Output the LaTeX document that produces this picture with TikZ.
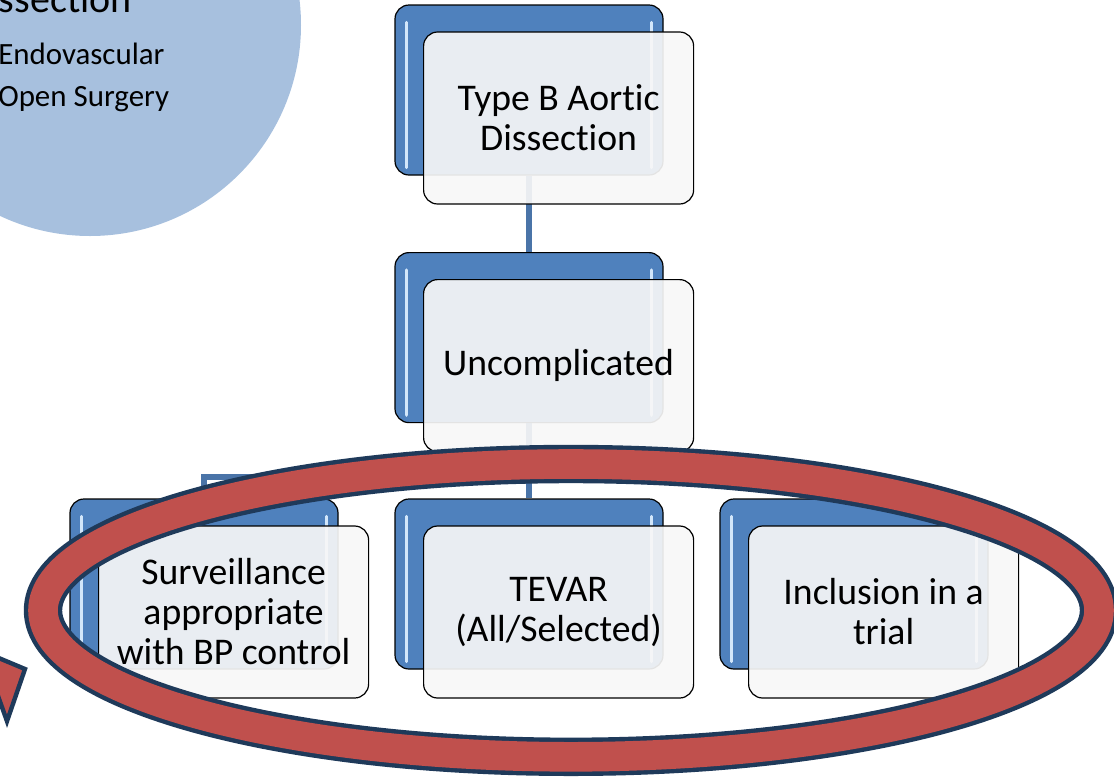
\documentclass[tikz,border=0pt]{standalone}
\usepackage{fontspec}
\setmainfont[Ligatures=NoCommon]{Carlito}
\usepackage{tikz}
\usetikzlibrary{shapes,calc,backgrounds}

\definecolor{boxblue}{HTML}{4F81BD}
\definecolor{linkblue}{HTML}{4A74A8}
\definecolor{shineblue}{HTML}{D2E6FA}
\definecolor{discblue}{HTML}{A7C0DE}
\definecolor{ringred}{HTML}{C0504D}
\definecolor{ringnavy}{HTML}{1F3A5A}

\begin{document}
\begin{tikzpicture}[remember picture]
    \newcommand{\shine}[1]{
      \draw[gloss] ([xshift=0.3cm, yshift=-0.45cm] #1.north west) -- ([xshift=0.3cm, yshift=0.2cm] #1.south west);
      \draw[gloss] ([xshift=-0.3cm, yshift=-0.45cm] #1.north east) -- ([xshift=-0.3cm, yshift=0.2cm] #1.south east);
    }
    \tikzstyle{edge}  = [line width=0.15cm, draw=linkblue]
    \tikzstyle{gloss} = [line width=0.08cm, line cap=round, draw=shineblue]
    \tikzstyle{back}=[
      rectangle,
      rounded corners=0.35cm,
      draw=black,
      line width=0.03cm,
      fill=boxblue,
      minimum width=6.7cm,
      minimum height=4.25cm,
    ]
    \tikzstyle{front}=[
      back,
      fill=white!97!black,
      fill opacity=0.92,
      text opacity=1,
      minimum width=6.75cm,
      minimum height=4.3cm,
      align=center,
      font=\fontsize{26.8}{28.45}\selectfont,
    ]
    \tikzstyle{panel}=[
      inner sep=0pt,
      font=\fontsize{22}{30}\selectfont,
    ]
    \tikzstyle{ring}=[
      draw=ringnavy,
      line width=0.11cm,
      double=ringred,
      double distance=0.74cm,
    ]

    \clip (0,0) rectangle (27.85,-19.5);

    % side panel
    {
      \fill[discblue] (2.25,-0.625) circle (5.275cm);
      \node[panel, anchor=base east, font=\fontsize{28.45}{30}\selectfont] (paneltitle) at (3.3,-0.3) {ssection};
      \node[panel, anchor=base west] (panelitem1) at (-0.05,-1.6) {Endovascular};
      \node[panel, anchor=base west] (panelitem2) at (-0.05,-2.65) {Open Surgery};
    }

    \coordinate (treeAnchor) at (13.225,-2.25);

    % tree
    {
      \node[back] (tree1back) at ([xshift=0cm, yshift=0cm] treeAnchor) {};
      \shine{tree1back}
      \node[front] (tree1) at ([xshift=0.74cm, yshift=-0.7cm] tree1back) {Type B Aortic\\Dissection};

      \node[back] (tree11back) at ([xshift=0cm, yshift=-6.19cm] treeAnchor) {};
      \shine{tree11back}
      \node[front] (tree11) at ([xshift=0.74cm, yshift=-0.7cm] tree11back) {Uncomplicated};

      \node[back] (tree111back) at ([xshift=-8.125cm, yshift=-12.35cm] treeAnchor) {};
      \shine{tree111back}
      \node[front] (tree111) at ([xshift=0.74cm, yshift=-0.7cm] tree111back) {Surveillance\\appropriate\\with BP control};

      \node[back] (tree112back) at ([xshift=0cm, yshift=-12.35cm] treeAnchor) {};
      \shine{tree112back}
      \node[front] (tree112) at ([xshift=0.74cm, yshift=-0.7cm] tree112back) {TEVAR\\(All/Selected)};

      \node[back] (tree113back) at ([xshift=8.125cm, yshift=-12.35cm] treeAnchor) {};
      \shine{tree113back}
      \node[front] (tree113) at ([xshift=0.74cm, yshift=-0.7cm] tree113back) {Inclusion in a\\trial};

      \begin{pgfonlayer}{background}
        \coordinate (fork) at ([yshift=-1.35cm] tree11back.south);
        \draw[edge] (tree1back.south)--(tree11back.north);
        \draw[edge] (tree11back.south)--(fork);
        \draw[edge] (fork) -| (tree111back.north);
        \draw[edge] (fork) -| (tree112back.north);
        \draw[edge] (fork) -| (tree113back.north);
      \end{pgfonlayer}
    }

    % ring arrow
    {
      \coordinate (ringAnchor) at (14.275,-15.26);
      \draw[ring] (ringAnchor) ellipse [x radius=13.2cm, y radius=3.66cm];
      \filldraw[fill=ringred, draw=ringnavy, line width=0.11cm, line join=miter]
        (-0.45,-16.275) -- (0.625,-16.725) -- (0.175,-18.03) -- cycle;
    }
  \end{tikzpicture}
\end{document}
